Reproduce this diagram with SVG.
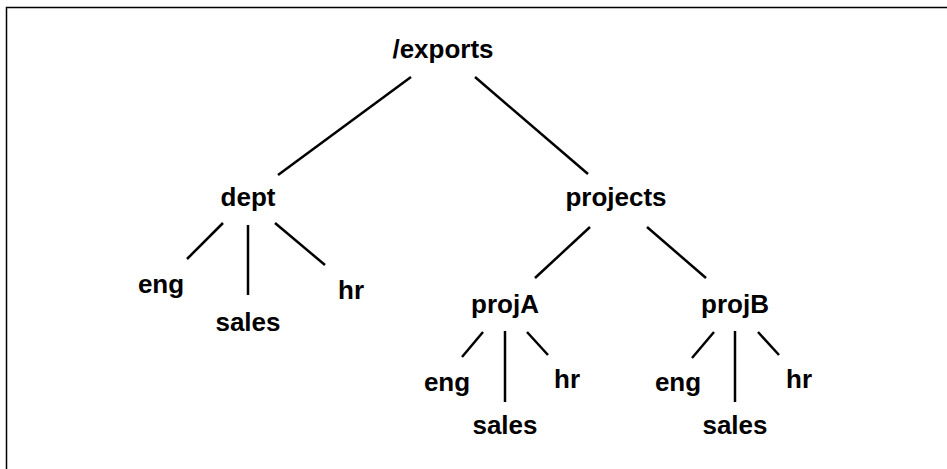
<svg xmlns="http://www.w3.org/2000/svg" width="947" height="469" viewBox="0 0 947 469">
<style>
.t{font-family:"Liberation Sans",Arial,sans-serif;font-weight:bold;font-size:26px;fill:#000;text-anchor:middle}
.c line{stroke:#000;stroke-width:2.5;stroke-linecap:butt}
</style>
<rect x="0" y="0" width="947" height="469" fill="#fff"/>
<path d="M6.5 469 V7.5 H947" fill="none" stroke="#000" stroke-width="1.5"/>
<g id="connectors" class="c">
<line x1="411" y1="77" x2="278" y2="175"/>
<line x1="475" y1="77" x2="588" y2="174"/>
<line x1="223" y1="223" x2="187" y2="259"/>
<line x1="248" y1="225" x2="248" y2="295"/>
<line x1="275" y1="223" x2="325" y2="265"/>
<line x1="590" y1="227" x2="535" y2="278"/>
<line x1="647" y1="227" x2="706" y2="278"/>
<line x1="483" y1="332" x2="462" y2="357"/>
<line x1="505" y1="331" x2="505" y2="402"/>
<line x1="527" y1="332" x2="548" y2="355"/>
<line x1="714" y1="332" x2="692" y2="358"/>
<line x1="735" y1="331" x2="735" y2="402"/>
<line x1="758" y1="332" x2="779" y2="355"/>
</g>
<g id="exports"><text class="t" x="443" y="58">/exports</text></g>
<g id="dept"><text class="t" x="248" y="206">dept</text></g>
<g id="projects"><text class="t" x="616" y="206">projects</text></g>
<g id="dept-eng"><text class="t" x="161" y="293">eng</text></g>
<g id="dept-sales"><text class="t" x="248" y="331">sales</text></g>
<g id="dept-hr"><text class="t" x="351" y="299">hr</text></g>
<g id="projA"><text class="t" x="505" y="313">projA</text></g>
<g id="projB"><text class="t" x="735" y="313">projB</text></g>
<g id="projA-eng"><text class="t" x="447" y="391">eng</text></g>
<g id="projA-sales"><text class="t" x="505" y="434">sales</text></g>
<g id="projA-hr"><text class="t" x="567" y="388">hr</text></g>
<g id="projB-eng"><text class="t" x="678" y="391">eng</text></g>
<g id="projB-sales"><text class="t" x="735" y="434">sales</text></g>
<g id="projB-hr"><text class="t" x="799" y="388">hr</text></g>
</svg>
